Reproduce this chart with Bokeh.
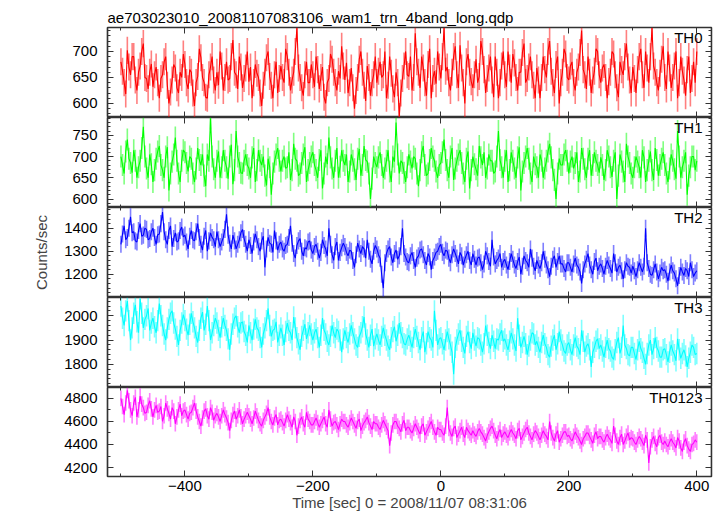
from bokeh.plotting import figure
from bokeh.layouts import column
from bokeh.models import Range1d, LinearAxis, FixedTicker, Label
from bokeh.embed import file_html
from bokeh.resources import INLINE

# ---------------- data ----------------
time_sec = [t / 2 for t in range(-1000, 801, 5)]  # bin centres [s], 2.5 s bins

rate_th0 = [
    680, 662, 640, 618, 702, 670, 655, 690, 690, 645, 625, 660, 672, 700, 715, 650, 648, 628, 660, 676,
    632, 655, 670, 640, 610, 648, 655, 680, 690, 635, 600, 622, 645, 675, 668, 630, 620, 660, 650, 695,
    675, 640, 628, 665, 660, 620, 595, 640, 652, 705, 688, 650, 640, 612, 610, 655, 670, 690, 645, 625,
    660, 635, 700, 672, 625, 650, 680, 645, 648, 690, 722, 660, 655, 628, 690, 670, 630, 648, 668, 700,
    642, 670, 610, 640, 675, 658, 650, 620, 595, 635, 660, 688, 700, 652, 635, 610, 655, 680, 620, 648,
    672, 650, 640, 705, 690, 660, 625, 645, 660, 700, 745, 668, 650, 630, 615, 655, 680, 640, 640, 675,
    655, 632, 690, 665, 628, 650, 670, 612, 600, 640, 648, 695, 685, 660, 640, 625, 662, 648, 710, 672,
    645, 678, 620, 640, 668, 630, 590, 625, 650, 685, 700, 660, 635, 605, 672, 650, 615, 640, 655, 690,
    640, 662, 680, 650, 655, 700, 610, 635, 690, 658, 628, 612, 660, 640, 575, 620, 648, 672, 700, 655,
    652, 690, 625, 650, 735, 680, 660, 630, 690, 668, 640, 615, 675, 705, 610, 648, 662, 638, 700, 670,
    648, 690, 745, 662, 670, 640, 625, 660, 690, 710, 655, 630, 712, 668, 640, 600, 680, 695, 660, 642,
    630, 655, 685, 640, 652, 720, 700, 665, 620, 648, 668, 690, 645, 612, 690, 660, 610, 640, 672, 700,
    655, 632, 700, 668, 640, 695, 678, 650, 625, 660, 660, 698, 715, 640, 648, 670, 690, 655, 635, 610,
    668, 645, 610, 650, 690, 665, 650, 700, 720, 662, 640, 620, 675, 690, 600, 640, 660, 705, 695, 650,
    645, 672, 680, 640, 625, 660, 670, 698, 740, 665, 655, 628, 690, 660, 620, 645, 662, 705, 700, 655,
    640, 668, 675, 650, 610, 642, 660, 700, 695, 655, 630, 612, 680, 665, 655, 690, 715, 670, 645, 620,
    670, 648, 620, 665, 690, 705, 655, 630, 700, 668, 640, 690, 745, 672, 660, 640, 625, 658, 685, 710,
    650, 628, 700, 668, 630, 650, 672, 700, 610, 640, 690, 662, 645, 615, 665, 690, 620, 648, 680, 640,
    700,
]

rate_th1 = [
    700, 680, 660, 712, 740, 695, 685, 662, 715, 690, 650, 675, 690, 720, 770, 700, 672, 650, 705, 682,
    640, 668, 695, 712, 725, 680, 668, 650, 700, 722, 620, 660, 688, 705, 745, 690, 660, 640, 690, 715,
    710, 685, 665, 700, 695, 660, 640, 672, 720, 692, 680, 705, 655, 630, 705, 690, 790, 700, 670, 650,
    690, 712, 650, 675, 715, 690, 675, 648, 700, 728, 635, 668, 760, 700, 685, 662, 660, 690, 705, 680,
    672, 650, 698, 720, 640, 668, 715, 690, 680, 700, 655, 632, 695, 675, 610, 660, 688, 705, 720, 690,
    665, 690, 700, 672, 675, 710, 645, 668, 730, 695, 690, 655, 660, 685, 705, 722, 640, 668, 685, 700,
    710, 680, 668, 650, 692, 715, 625, 660, 700, 682, 745, 698, 672, 650, 690, 720, 650, 676, 715, 690,
    680, 705, 640, 665, 705, 690, 670, 645, 695, 718, 655, 680, 725, 692, 688, 660, 600, 648, 700, 685,
    675, 698, 710, 680, 650, 672, 690, 715, 665, 640, 700, 688, 780, 705, 660, 690, 685, 662, 640, 675,
    705, 688, 672, 700, 695, 660, 630, 668, 710, 725, 680, 655, 660, 692, 720, 700, 690, 665, 650, 680,
    685, 710, 740, 692, 668, 650, 700, 720, 645, 672, 690, 705, 715, 685, 660, 640, 695, 712, 625, 668,
    700, 682, 670, 655, 725, 698, 680, 710, 650, 672, 705, 690, 690, 660, 665, 700, 760, 692, 675, 650,
    690, 715, 640, 668, 710, 690, 672, 650, 698, 722, 620, 665, 685, 700, 720, 695, 660, 640, 700, 682,
    675, 650, 705, 690, 650, 672, 690, 712, 730, 698, 668, 645, 600, 660, 695, 680, 680, 705, 715, 690,
    660, 688, 700, 672, 685, 710, 640, 665, 720, 695, 670, 650, 695, 715, 655, 680, 710, 690, 680, 662,
    698, 680, 645, 668, 715, 700, 675, 652, 690, 710, 600, 655, 705, 688, 665, 640, 730, 700, 685, 660,
    650, 675, 700, 688, 675, 650, 715, 698, 640, 668, 690, 712, 668, 645, 720, 692, 655, 680, 695, 710,
    680, 660, 640, 672, 705, 690, 670, 648, 760, 700, 650, 675, 690, 710, 610, 655, 675, 700, 700, 668,
    690,
]

rate_th2 = [
    1330, 1375, 1410, 1350, 1360, 1400, 1450, 1380, 1385, 1345, 1340, 1390, 1420, 1365, 1370, 1400, 1395, 1350, 1355, 1385,
    1400, 1360, 1330, 1372, 1375, 1420, 1470, 1385, 1350, 1330, 1390, 1410, 1320, 1355, 1380, 1340, 1345, 1390, 1405, 1362,
    1370, 1340, 1310, 1365, 1390, 1350, 1345, 1385, 1420, 1360, 1330, 1305, 1365, 1390, 1300, 1345, 1380, 1360, 1350, 1320,
    1385, 1350, 1320, 1340, 1360, 1395, 1460, 1370, 1335, 1310, 1370, 1345, 1310, 1330, 1350, 1380, 1395, 1355, 1330, 1300,
    1350, 1325, 1290, 1340, 1375, 1350, 1320, 1300, 1345, 1365, 1230, 1310, 1360, 1335, 1330, 1295, 1390, 1345, 1305, 1330,
    1340, 1310, 1300, 1325, 1330, 1360, 1410, 1335, 1290, 1270, 1325, 1345, 1355, 1300, 1280, 1315, 1310, 1340, 1345, 1305,
    1290, 1320, 1330, 1300, 1270, 1295, 1350, 1325, 1310, 1280, 1400, 1330, 1285, 1260, 1320, 1340, 1260, 1295, 1315, 1335,
    1320, 1295, 1280, 1305, 1300, 1260, 1230, 1285, 1335, 1310, 1290, 1320, 1310, 1270, 1350, 1300, 1265, 1245, 1300, 1325,
    1310, 1285, 1270, 1200, 1140, 1250, 1290, 1310, 1320, 1275, 1250, 1290, 1305, 1265, 1280, 1320, 1400, 1290, 1275, 1255,
    1250, 1280, 1295, 1260, 1230, 1270, 1280, 1305, 1310, 1285, 1260, 1240, 1290, 1275, 1220, 1260, 1275, 1295, 1300, 1320,
    1330, 1295, 1280, 1305, 1300, 1270, 1250, 1285, 1310, 1290, 1270, 1245, 1295, 1280, 1240, 1265, 1285, 1300, 1260, 1240,
    1290, 1265, 1240, 1270, 1275, 1250, 1220, 1245, 1300, 1280, 1255, 1235, 1350, 1275, 1245, 1260, 1270, 1290, 1230, 1255,
    1265, 1240, 1220, 1255, 1290, 1265, 1240, 1225, 1255, 1275, 1200, 1235, 1280, 1260, 1250, 1230, 1310, 1270, 1235, 1215,
    1260, 1240, 1225, 1250, 1300, 1265, 1240, 1220, 1190, 1235, 1265, 1280, 1230, 1255, 1280, 1245, 1245, 1225, 1210, 1250,
    1250, 1230, 1210, 1245, 1270, 1240, 1230, 1210, 1160, 1220, 1245, 1265, 1290, 1240, 1220, 1200, 1255, 1270, 1215, 1235,
    1245, 1225, 1200, 1235, 1260, 1240, 1225, 1205, 1290, 1250, 1210, 1230, 1240, 1215, 1180, 1220, 1250, 1235, 1230, 1205,
    1235, 1215, 1190, 1220, 1250, 1230, 1210, 1235, 1400, 1250, 1225, 1200, 1195, 1220, 1245, 1210, 1180, 1205, 1230, 1215,
    1220, 1200, 1170, 1210, 1240, 1215, 1205, 1180, 1150, 1195, 1230, 1210, 1195, 1225, 1215, 1190, 1250, 1220, 1190, 1205,
    1215,
]

rate_th3 = [
    2040, 1990, 1960, 2020, 2060, 1980, 1900, 1950, 2010, 2045, 1975, 1930, 2070, 2010, 1950, 1985, 2000, 2030, 1940, 1970,
    1990, 1955, 1930, 1980, 2050, 2000, 1960, 1925, 1900, 1950, 1985, 2010, 2020, 1970, 1945, 1915, 1880, 1940, 1970, 2005,
    1980, 1945, 1920, 1965, 2010, 1975, 1950, 1915, 1890, 1940, 1990, 2015, 1940, 1965, 2040, 1980, 1900, 1930, 1960, 1990,
    1970, 1940, 1910, 1955, 1990, 1960, 1940, 1905, 1860, 1925, 1965, 1990, 2000, 1955, 1930, 1970, 1975, 1935, 1920, 1890,
    1960, 1930, 1900, 1945, 1985, 1950, 1940, 1910, 1870, 1925, 1950, 1980, 2030, 1960, 1915, 1940, 1945, 1975, 1890, 1920,
    1950, 1920, 1880, 1935, 1970, 1940, 1930, 1900, 1995, 1950, 1910, 1885, 1860, 1915, 1940, 1965, 1905, 1930, 1960, 1925,
    1900, 1930, 1945, 1910, 1870, 1920, 1990, 1940, 1925, 1895, 1880, 1915, 1960, 1930, 1910, 1945, 1935, 1900, 1850, 1905,
    1940, 1910, 1890, 1925, 1960, 1930, 1905, 1880, 1870, 1915, 1930, 1955, 1995, 1925, 1900, 1870, 1920, 1945, 1875, 1905,
    1925, 1900, 1880, 1915, 1950, 1920, 1900, 1875, 1860, 1910, 1935, 1955, 1895, 1920, 1970, 1930, 1910, 1885, 1880, 1905,
    1920, 1895, 1870, 1910, 1945, 1915, 1890, 1860, 1910, 1935, 1850, 1885, 1935, 1910, 1900, 1870, 2020, 1940, 1880, 1905,
    1910, 1885, 1860, 1900, 1935, 1905, 1880, 1850, 1760, 1870, 1900, 1925, 1940, 1895, 1870, 1845, 1915, 1935, 1890, 1865,
    1930, 1900, 1875, 1910, 1905, 1880, 1850, 1885, 1960, 1920, 1890, 1865, 1920, 1895, 1865, 1905, 1900, 1925, 1940, 1895,
    1905, 1880, 1860, 1895, 1930, 1905, 1880, 1855, 1990, 1920, 1870, 1890, 1915, 1885, 1840, 1875, 1900, 1930, 1925, 1880,
    1895, 1870, 1850, 1890, 1920, 1885, 1870, 1840, 1830, 1875, 1900, 1920, 1860, 1885, 1935, 1900, 1880, 1855, 1845, 1880,
    1890, 1860, 1840, 1880, 1910, 1875, 1865, 1840, 1940, 1895, 1850, 1875, 1885, 1860, 1790, 1850, 1870, 1895, 1905, 1865,
    1880, 1855, 1830, 1870, 1900, 1865, 1855, 1830, 1820, 1860, 1890, 1910, 1845, 1870, 1960, 1880, 1865, 1840, 1835, 1870,
    1870, 1845, 1820, 1860, 1895, 1865, 1850, 1825, 1800, 1845, 1880, 1900, 1840, 1865, 1910, 1870, 1855, 1830, 1830, 1860,
    1865, 1840, 1810, 1850, 1880, 1855, 1840, 1815, 1905, 1860, 1825, 1845, 1860, 1835, 1790, 1825, 1850, 1880, 1870, 1840,
    1845,
]

rate_th0123 = [
    4800, 4730, 4660, 4760, 4870, 4780, 4700, 4650, 4760, 4810, 4640, 4700, 4820, 4750, 4720, 4670, 4680, 4740, 4780, 4710,
    4640, 4700, 4740, 4680, 4690, 4730, 4600, 4650, 4760, 4710, 4670, 4620, 4720, 4690, 4580, 4640, 4700, 4750, 4650, 4690,
    4700, 4660, 4620, 4670, 4680, 4720, 4760, 4690, 4640, 4600, 4560, 4630, 4690, 4710, 4650, 4620, 4720, 4680, 4610, 4650,
    4670, 4640, 4600, 4650, 4700, 4660, 4630, 4590, 4520, 4610, 4660, 4690, 4620, 4650, 4700, 4640, 4580, 4620, 4650, 4680,
    4650, 4620, 4580, 4630, 4690, 4650, 4610, 4580, 4560, 4610, 4640, 4670, 4720, 4640, 4600, 4570, 4630, 4660, 4570, 4610,
    4620, 4590, 4560, 4610, 4660, 4620, 4590, 4550, 4640, 4600, 4480, 4560, 4610, 4640, 4580, 4550, 4680, 4620, 4600, 4570,
    4570, 4600, 4630, 4590, 4550, 4580, 4610, 4640, 4580, 4550, 4700, 4620, 4560, 4590, 4600, 4570, 4530, 4580, 4620, 4600,
    4600, 4570, 4550, 4590, 4630, 4600, 4570, 4540, 4600, 4620, 4520, 4560, 4590, 4610, 4640, 4590, 4560, 4530, 4600, 4580,
    4580, 4550, 4530, 4570, 4610, 4580, 4550, 4520, 4390, 4500, 4570, 4600, 4600, 4560, 4540, 4510, 4580, 4610, 4520, 4550,
    4550, 4520, 4500, 4540, 4580, 4550, 4520, 4490, 4560, 4580, 4480, 4510, 4540, 4570, 4600, 4550, 4510, 4480, 4550, 4530,
    4530, 4500, 4480, 4560, 4720, 4540, 4500, 4470, 4540, 4560, 4460, 4490, 4520, 4550, 4490, 4460, 4550, 4520, 4500, 4480,
    4520, 4490, 4470, 4510, 4540, 4510, 4490, 4460, 4430, 4480, 4510, 4540, 4560, 4520, 4480, 4450, 4500, 4530, 4460, 4490,
    4510, 4480, 4460, 4500, 4530, 4500, 4480, 4450, 4520, 4540, 4440, 4470, 4500, 4530, 4550, 4500, 4470, 4440, 4490, 4520,
    4500, 4470, 4440, 4480, 4520, 4490, 4470, 4440, 4600, 4500, 4460, 4430, 4490, 4520, 4420, 4450, 4480, 4510, 4510, 4470,
    4480, 4450, 4430, 4470, 4510, 4480, 4460, 4430, 4400, 4450, 4470, 4500, 4500, 4470, 4440, 4410, 4480, 4510, 4450, 4470,
    4470, 4440, 4420, 4460, 4490, 4460, 4440, 4410, 4560, 4480, 4430, 4400, 4460, 4490, 4400, 4430, 4470, 4500, 4440, 4460,
    4450, 4420, 4400, 4440, 4470, 4450, 4420, 4390, 4480, 4440, 4240, 4380, 4440, 4470, 4410, 4380, 4460, 4480, 4420, 4400,
    4430, 4400, 4380, 4420, 4450, 4420, 4400, 4370, 4460, 4430, 4370, 4340, 4420, 4450, 4390, 4360, 4340, 4400, 4410, 4440,
    4420,
]

band_names = ["TH0", "TH1", "TH2", "TH3", "TH0123"]
band_rates = [rate_th0, rate_th1, rate_th2, rate_th3, rate_th0123]
band_errors = [26, 26, 37, 44, 68]          # typical 1-sigma error bar
band_colors = ["#ff0000", "#00ff00", "#0000ff", "#00ffff", "#ff00ff"]
y_limits = [(573, 746), (580, 792), (1099, 1490), (1705, 2075), (4122, 4895)]
y_major = [[600, 650, 700], [600, 650, 700, 750], [1200, 1300, 1400],
           [1800, 1900, 2000], [4200, 4400, 4600, 4800]]
y_minor_step = [10, 10, 20, 20, 100]
x_limits = (-521, 423)
x_major = [-400, -200, 0, 200, 400]
x_minor = [-500, -300, -100, 100, 300]

title_text = "ae703023010_20081107083106_wam1_trn_4band_long.qdp"
x_label = "Time [sec] 0 = 2008/11/07 08:31:06"
y_label = "Counts/sec"

# ---------------- drawing ----------------
FONT = "Liberation Sans"
FS = "15px"
AX = "#333333"
x_range = Range1d(*x_limits)
frame_heights = [90, 90, 90, 90, 89]


def style_axis(ax, labels):
    ax.axis_line_color = AX
    ax.axis_line_width = 1.2
    ax.major_tick_line_color = AX
    ax.minor_tick_line_color = AX
    ax.major_tick_in = 6
    ax.major_tick_out = 0
    ax.minor_tick_in = 3
    ax.minor_tick_out = 0
    ax.major_label_text_font = FONT
    if labels:
        ax.major_label_text_font_size = FS
        ax.major_label_text_color = "black"
    else:
        ax.major_label_text_font_size = "0px"
        ax.major_label_text_color = None
        ax.major_label_standoff = 0


figs = []
for k in range(5):
    last = k == 4
    lo_y, hi_y = y_limits[k]
    p = figure(frame_width=604, frame_height=frame_heights[k],
               x_range=x_range, y_range=Range1d(lo_y, hi_y),
               x_axis_location=None, y_axis_location=None,
               output_backend="svg", toolbar_location=None,
               min_border_left=107, min_border_right=12,
               min_border_top=27 if k == 0 else 0, min_border_bottom=0)
    p.grid.visible = False
    p.outline_line_color = AX
    p.outline_line_width = 1.5
    p.background_fill_color = "white"
    p.border_fill_color = "white"

    ymin_t = list(range(int(lo_y) // y_minor_step[k] * y_minor_step[k],
                        int(hi_y) + 1, y_minor_step[k]))
    left = LinearAxis(ticker=FixedTicker(ticks=y_major[k], minor_ticks=ymin_t))
    style_axis(left, True)
    left.major_label_standoff = 10
    if k == 2:
        left.axis_label = y_label
        left.axis_label_text_font = FONT
        left.axis_label_text_font_size = FS
        left.axis_label_text_font_style = "normal"
        left.axis_label_standoff = 11
    p.add_layout(left, "left")

    right = LinearAxis(ticker=FixedTicker(ticks=y_major[k], minor_ticks=ymin_t),
                       fixed_location=x_limits[1])
    style_axis(right, False)
    p.add_layout(right, "right")

    top = LinearAxis(ticker=FixedTicker(ticks=x_major, minor_ticks=x_minor),
                     fixed_location=hi_y)
    style_axis(top, False)
    p.add_layout(top, "above")

    if last:
        bottom = LinearAxis(ticker=FixedTicker(ticks=x_major, minor_ticks=x_minor))
        style_axis(bottom, True)
        bottom.major_label_standoff = 4
        bottom.axis_label = x_label
        bottom.axis_label_text_font = FONT
        bottom.axis_label_text_font_size = FS
        bottom.axis_label_text_font_style = "normal"
        bottom.axis_label_standoff = 0
    else:
        bottom = LinearAxis(ticker=FixedTicker(ticks=x_major, minor_ticks=x_minor),
                            fixed_location=lo_y)
        style_axis(bottom, False)
    p.add_layout(bottom, "below")

    if k == 0:
        p.title.text = title_text
        p.title.align = "left"
        p.title.text_font = FONT
        p.title.text_font_size = FS
        p.title.text_font_style = "normal"
        p.title.text_color = "black"
        p.title.standoff = 4
        p.title.offset = 0

    rates = band_rates[k]
    err = band_errors[k]
    lo = [r - err for r in rates]
    hi = [r + err for r in rates]
    p.segment(x0=time_sec, y0=lo, x1=time_sec, y1=hi,
              line_color=band_colors[k], line_alpha=0.5, line_width=1.6)
    p.line(time_sec, rates, line_color=band_colors[k], line_width=1.1)

    p.add_layout(Label(x=409, y=hi_y, text=band_names[k], text_align="right",
                       text_baseline="top", y_offset=-1, text_font=FONT,
                       text_font_size=FS, text_color="black"))
    figs.append(p)

layout = column(*figs, spacing=0)
open("out.html", "w").write(file_html(layout, INLINE))
